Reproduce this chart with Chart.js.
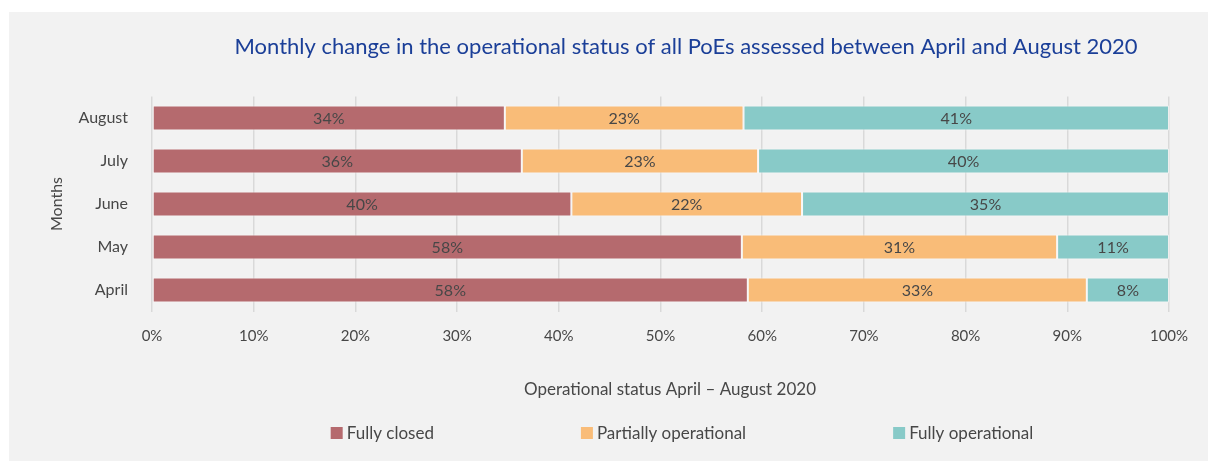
<!DOCTYPE html>
<html>
<head>
<meta charset="utf-8">
<script src="https://cdn.jsdelivr.net/npm/chart.js@4"></script>
<style>
  html, body { margin: 0; padding: 0; background: #ffffff; overflow: hidden; }
  #wrap { width: 1208px; height: 461px; position: relative; }
  #chart { display: block; }
</style>
</head>
<body>
<div id="wrap"><canvas id="chart" width="1208" height="461"></canvas></div>
<script>
// data (label values as printed on the bars, percent)
const months = ["April", "May", "June", "July", "August"];
const fullyClosed = [58, 58, 40, 36, 34];
const partiallyOp = [33, 31, 22, 23, 23];
const fullyOp = [8, 11, 35, 40, 41];
const seriesNames = ["Fully closed", "Partially operational", "Fully operational"];
const xTicks = [0, 10, 20, 30, 40, 50, 60, 70, 80, 90, 100];

const colors = ["#b56a6e", "#f9bc78", "#88cac8"];
const textColor = "#474747";
const fontFam = "Lato, 'Open Sans', sans-serif";

// bars are drawn 100% stacked: each month's shares scaled to fill the row
const totals = months.map((m, i) => fullyClosed[i] + partiallyOp[i] + fullyOp[i]);
const share = (arr) => arr.map((v, i) => v / totals[i] * 100);
const raw = [fullyClosed, partiallyOp, fullyOp];

const datasets = raw.map((arr, k) => ({
  label: seriesNames[k],
  data: share(arr),
  rawValues: arr,
  backgroundColor: colors[k],
  borderColor: "rgba(255,255,255,0.55)",
  borderWidth: 1,
  borderSkipped: false,
  barPercentage: 0.58,
  categoryPercentage: 1
}));

// =========================
//   extra drawing
// =========================
const panelBg = {
  id: "panelBg",
  beforeDraw(chart) {
    const ctx = chart.ctx;
    ctx.save();
    ctx.fillStyle = "#f2f2f2";
    ctx.fillRect(9, 12, chart.width - 9, chart.height - 12);
    ctx.restore();
  }
};

const barLabels = {
  id: "barLabels",
  afterDatasetsDraw(chart) {
    const ctx = chart.ctx;
    ctx.save();
    ctx.font = "16px " + fontFam;
    ctx.fillStyle = textColor;
    ctx.textAlign = "center";
    ctx.textBaseline = "middle";
    chart.data.datasets.forEach((ds, k) => {
      chart.getDatasetMeta(k).data.forEach((bar, i) => {
        const cx = (bar.x + bar.base) / 2;
        ctx.fillText(ds.rawValues[i] + "%", cx, bar.y + 1);
      });
    });
    ctx.restore();
  }
};

const titleAndLegend = {
  id: "titleAndLegend",
  afterDraw(chart) {
    const ctx = chart.ctx;
    ctx.save();
    ctx.font = "22px " + fontFam;
    ctx.fillStyle = "#1b3f98";
    ctx.textAlign = "center";
    ctx.textBaseline = "middle";
    ctx.fillText("Monthly change in the operational status of all PoEs assessed between April and August 2020", 686, 47);

    // x axis title, centred a little right of the plot like the original
    ctx.font = "17px " + fontFam;
    ctx.fillStyle = textColor;
    ctx.fillText("Operational status April – August 2020", 670, 390);

    // legend row
    ctx.font = "17px " + fontFam;
    ctx.textAlign = "left";
    const box = 12, gapText = 4, gapItem = 147;
    const widths = chart.data.datasets.map(ds => box + gapText + ctx.measureText(ds.label).width);
    const total = widths.reduce((a, b) => a + b, 0) + gapItem * (widths.length - 1);
    let x = 682 - total / 2;
    const y = 433;
    chart.data.datasets.forEach((ds, k) => {
      ctx.fillStyle = ds.backgroundColor;
      ctx.fillRect(x, y - box / 2, box, box);
      ctx.fillStyle = textColor;
      ctx.fillText(ds.label, x + box + gapText, y + 1);
      x += widths[k] + gapItem;
    });
    ctx.restore();
  }
};

new Chart(document.getElementById("chart"), {
  type: "bar",
  data: { labels: months, datasets },
  plugins: [panelBg, barLabels, titleAndLegend],
  options: {
    indexAxis: "y",
    responsive: false,
    animation: false,
    layout: { padding: { top: 96.5, right: 39, bottom: 49.5, left: 0 } },
    plugins: {
      legend: { display: false },
      title: { display: false },
      tooltip: { enabled: false }
    },
    scales: {
      x: {
        stacked: true,
        min: 0,
        max: 100,
        afterBuildTicks(scale) { scale.ticks = xTicks.map(v => ({ value: v })); },
        afterFit(scale) { scale.height = 100; },
        grid: { color: "#d9d9d9", lineWidth: 1.5, drawTicks: false },
        border: { display: false },
        ticks: {
          padding: 16,
          color: textColor,
          font: { family: fontFam, size: 15 },
          callback: (v) => v + "%"
        },
        title: { display: false }
      },
      y: {
        stacked: true,
        reverse: true,
        afterFit(scale) { scale.width = 152; },
        grid: { display: false, drawTicks: false },
        border: { display: false },
        ticks: {
          padding: 24,
          color: textColor,
          font: { family: fontFam, size: 16 }
        },
        title: {
          display: true,
          text: "Months",
          color: textColor,
          font: { family: fontFam, size: 16 },
          padding: { top: 47, bottom: 0 }
        }
      }
    }
  }
});
</script>
</body>
</html>
